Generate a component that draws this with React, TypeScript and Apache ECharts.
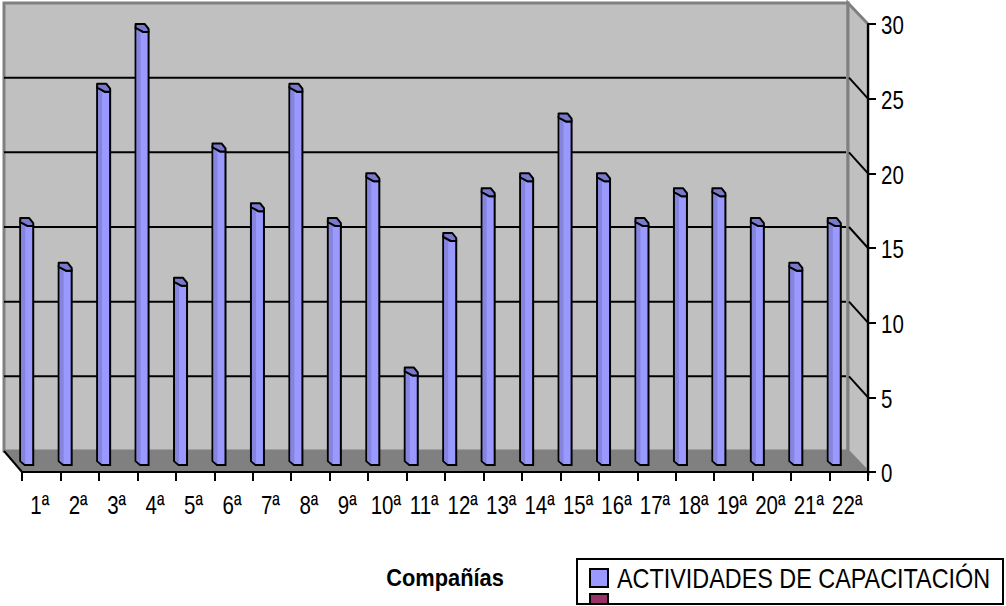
import React, { useEffect, useRef } from "react";
import * as echarts from "echarts";

const categories = ["1ª","2ª","3ª","4ª","5ª","6ª","7ª","8ª","9ª","10ª","11ª","12ª","13ª","14ª","15ª","16ª","17ª","18ª","19ª","20ª","21ª","22ª"];
const actividades = [16,13,25,29,12,21,17,25,16,19,6,15,18,19,23,19,16,18,18,16,13,16];
const gridTicks = [5,10,15,20,25];
const valueTicks = [0,5,10,15,20,25,30];
const seriesName = "ACTIVIDADES DE CAPACITACIÓN";
const axisTitle = "Compañías";
const FONT = '"Liberation Sans", Arial, sans-serif';
const NARROW = 0.82;

const BACK_DX = -19, BACK_DY = -21;
const BAR_DX = -14.5, BAR_DY = -11;

function renderWalls(_p: any, api: any) {
  const band = api.size([1, 0])[0];
  const [c0, y0] = api.coord([0, 0]);
  const [cN, yT] = api.coord([categories.length - 1, 30]);
  const xL = c0 - band / 2, xR = cN + band / 2;
  const bx0 = xL + BACK_DX + 1, bx1 = xR + BACK_DX - 1;
  const by0 = y0 + BACK_DY, byT = yT + BACK_DY;
  const children: any[] = [
    { type: "rect", shape: { x: bx0, y: byT, width: bx1 - bx0, height: by0 - byT },
      style: { fill: "#c0c0c0", stroke: "#808080", lineWidth: 3 } },
    { type: "polygon", shape: { points: [[bx1, byT], [xR, yT], [xR, y0], [bx1, by0]] },
      style: { fill: "#c0c0c0", stroke: "#808080", lineWidth: 3 } },
    { type: "polygon", shape: { points: [[bx0, by0], [bx1, by0], [xR, y0], [xL, y0]] },
      style: { fill: "#808080", stroke: "#808080", lineWidth: 1 } },
    { type: "line", shape: { x1: bx0, y1: by0, x2: xL, y2: y0 }, style: { stroke: "#000", lineWidth: 2 } },
  ];
  gridTicks.forEach((t) => {
    const y = api.coord([0, t])[1];
    children.push({ type: "line", shape: { x1: bx0, y1: y + BACK_DY, x2: bx1 - 2, y2: y + BACK_DY }, style: { stroke: "#000", lineWidth: 2 } });
    children.push({ type: "line", shape: { x1: bx1 + 1, y1: y + BACK_DY, x2: xR, y2: y }, style: { stroke: "#000", lineWidth: 2 } });
  });
  return { type: "group", children };
}

function renderBar(_p: any, api: any) {
  const [cx, top] = api.coord([api.value(0), api.value(1)]);
  const base = api.coord([api.value(0), 0])[1];
  const X = cx + BAR_DX;
  const Y = top + BAR_DY;
  const Y0 = base + BAR_DY;
  const outline = [[X - 6.5, Y], [X + 1, Y + 4], [X + 6.5, Y + 4], [X + 6.5, Y0 + 4], [X - 2, Y0 + 4], [X - 6.5, Y0]];
  return {
    type: "group",
    children: [
      { type: "polygon", shape: { points: outline }, style: { fill: "#9999ff", stroke: "#000", lineWidth: 2 } },
      { type: "polygon", shape: { points: [[X - 5.5, Y + 1], [X - 1.5, Y + 3], [X - 1.5, Y0 + 3], [X - 5.5, Y0]] }, style: { fill: "#8585dd" } },
      { type: "polygon", shape: { points: [[X - 6.5, Y - 4], [X + 2.5, Y - 4], [X + 6.5, Y + 1], [X + 6.5, Y + 4], [X + 1, Y + 4], [X - 6.5, Y]] },
        style: { fill: "#7a7acc", stroke: "#000", lineWidth: 2, lineJoin: "round" } },
    ],
  };
}

function renderLabels(_p: any, api: any) {
  const children: any[] = [];
  const base = api.coord([0, 0])[1];
  categories.forEach((c, i) => {
    children.push({
      type: "text", x: api.coord([i, 0])[0] - 1.5, y: base + 33.5, scaleX: NARROW,
      style: { text: c, fontFamily: FONT, fontSize: 25, fill: "#000", textAlign: "center", textVerticalAlign: "middle" },
    });
  });
  const xR = api.coord([categories.length - 1, 0])[0] + api.size([1, 0])[0] / 2;
  valueTicks.forEach((t) => {
    children.push({
      type: "text", x: xR + 13, y: api.coord([0, t])[1] + 1.5, scaleX: NARROW,
      style: { text: String(t), fontFamily: FONT, fontSize: 25, fill: "#000", textAlign: "left", textVerticalAlign: "middle" },
    });
  });
  return { type: "group", children };
}

export default function App() {
  const ref = useRef<HTMLDivElement>(null);
  useEffect(() => {
    const chart = echarts.init(ref.current!, null, { renderer: "svg" });
    chart.setOption({
      animation: false,
      backgroundColor: "#fff",
      grid: { left: 22, right: 138, top: 24, bottom: 134 },
      xAxis: {
        type: "category",
        data: categories,
        z: 5,
        axisLine: { lineStyle: { color: "#000", width: 2 } },
        axisTick: { show: true, alignWithLabel: false, length: 9, lineStyle: { color: "#000", width: 2 } },
        axisLabel: { show: false },
        splitLine: { show: false },
      },
      yAxis: {
        type: "value",
        position: "right",
        min: 0,
        max: 30,
        interval: 5,
        z: 5,
        axisLine: { show: true, lineStyle: { color: "#000", width: 2 } },
        axisTick: { show: true, length: 8, lineStyle: { color: "#000", width: 2 } },
        axisLabel: { show: false },
        splitLine: { show: false },
      },
      graphic: [
        { type: "text", z: 200, x: 445, y: 578, scaleX: 0.95,
          style: { text: axisTitle, fontFamily: FONT, fontSize: 23, fontWeight: "bold", fill: "#000", textAlign: "center", textVerticalAlign: "middle" } },
        { type: "rect", z: 200, shape: { x: 577, y: 559, width: 426, height: 45 }, style: { fill: "#fff", stroke: "#000", lineWidth: 2 } },
        { type: "rect", z: 201, shape: { x: 590, y: 569, width: 18, height: 18 }, style: { fill: "#9999ff", stroke: "#000", lineWidth: 2 } },
        { type: "rect", z: 201, shape: { x: 590, y: 594, width: 18, height: 10 }, style: { fill: "#993366", stroke: "#000", lineWidth: 2 } },
        { type: "text", z: 201, x: 617, y: 578, scaleX: 0.835,
          style: { text: seriesName, fontFamily: FONT, fontSize: 28, fill: "#000", textAlign: "left", textVerticalAlign: "middle" } },
      ],
      series: [
        { type: "custom", name: "walls", z: 1, silent: true, clip: false, renderItem: renderWalls, data: [[0, 0]], encode: { x: 0, y: 1 } },
        { type: "custom", name: seriesName, z: 2, silent: true, clip: false, renderItem: renderBar,
          data: actividades.map((v, i) => [i, v]), encode: { x: 0, y: 1 } },
        { type: "custom", name: "labels", z: 6, silent: true, clip: false, renderItem: renderLabels, data: [[0, 0]], encode: { x: 0, y: 1 } },
      ],
    });
    return () => chart.dispose();
  }, []);
  return <div ref={ref} style={{ position: "absolute", left: 0, top: 0, width: 1006, height: 606 }} />;
}
